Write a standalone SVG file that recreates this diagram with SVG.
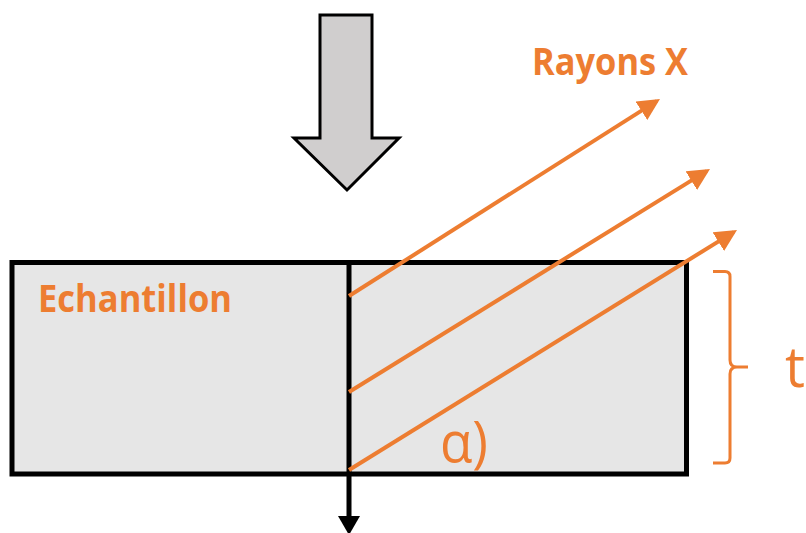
<svg xmlns="http://www.w3.org/2000/svg" width="806" height="533" viewBox="0 0 806 533">
<defs>
<style>
.lbl{font-family:"Open Sans","Liberation Sans",sans-serif;fill:#ED7D31}
.b{font-weight:bold;font-size:38px}
.ray{stroke:#ED7D31;stroke-width:4;fill:none}
</style>
<marker id="oa" markerUnits="userSpaceOnUse" viewBox="0 0 22 22" markerWidth="22" markerHeight="22" refX="18" refY="11" orient="auto">
<path d="M0,0 L22,11 L0,22 z" fill="#ED7D31"/>
</marker>
</defs>
<rect width="806" height="533" fill="#ffffff"/>
<g id="force">
<polygon points="320,15 372,15 372,138 399,138 347,190 294,138 320,138" fill="#d0cece" stroke="#000" stroke-width="3" stroke-linejoin="miter"/>
</g>
<g id="echantillon">
<rect x="12" y="262.5" width="674.5" height="211.5" fill="#e6e6e6" stroke="#000" stroke-width="5"/>
<text class="lbl b" x="38" y="312" textLength="194" lengthAdjust="spacingAndGlyphs">Echantillon</text>
</g>
<g id="connectors">
<line x1="349" y1="262" x2="349" y2="518" stroke="#000" stroke-width="5"/>
<polygon points="338,516 360,516 349,535" fill="#000"/>
<line class="ray" x1="349" y1="296" x2="656.6" y2="101.1" marker-end="url(#oa)"/>
<line class="ray" x1="349" y1="392" x2="706.6" y2="171.1" marker-end="url(#oa)"/>
<line class="ray" x1="349" y1="470" x2="733.6" y2="232.1" marker-end="url(#oa)"/>
</g>
<g id="rayons">
<text class="lbl b" x="532" y="75" textLength="156" lengthAdjust="spacingAndGlyphs">Rayons X</text>
</g>
<g id="angle">
<text class="lbl" x="440" y="462" font-size="56" textLength="48" lengthAdjust="spacingAndGlyphs">α)</text>
</g>
<g id="epaisseur">
<path d="M713,271.5 L725,271.5 Q730,271.5 730,276.5 L730,360 Q730,367 737,367 L748,367 M737,367 Q730,367 730,374 L730,458 Q730,463 725,463 L713,463" fill="none" stroke="#ED7D31" stroke-width="3"/>
<text class="lbl" x="785" y="387" font-size="56">t</text>
</g>
</svg>
